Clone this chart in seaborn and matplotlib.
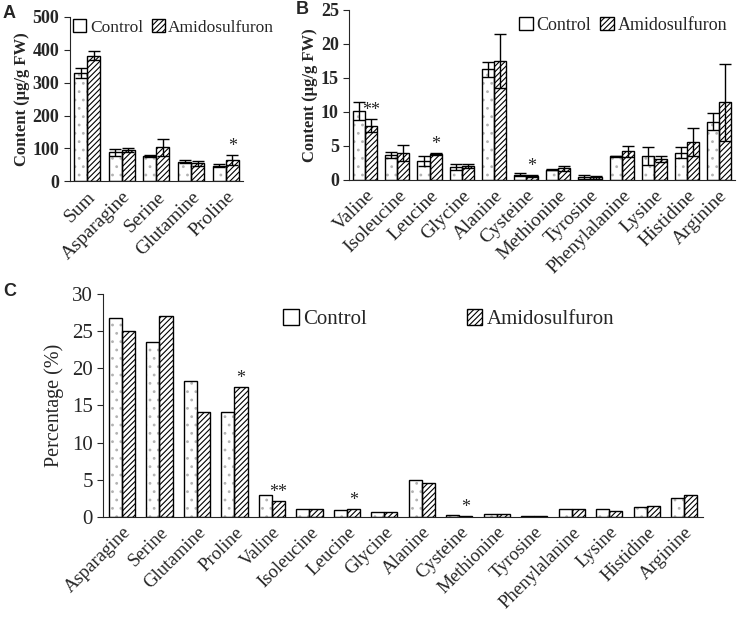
import numpy as np
import pandas as pd
import matplotlib
matplotlib.use('Agg')
import matplotlib.pyplot as plt
import seaborn as sns
from matplotlib.patches import Patch, Rectangle

groups = ['Control', 'Amidosulfuron']

# panel A
a_names = ['Sum', 'Asparagine', 'Serine', 'Glutamine', 'Proline']
a_ctrl = [330, 88, 77, 60, 47]
a_ctrl_err = [15, 11, 3, 6, 5]
a_amido = [382, 95, 103, 54, 65]
a_amido_err = [14, 6, 27, 8, 15]
a_stars = ['', '', '', '', '*']

# panel B
b_names = ['Valine', 'Isoleucine', 'Leucine', 'Glycine', 'Alanine', 'Cysteine',
           'Methionine', 'Tyrosine', 'Phenylalanine', 'Lysine', 'Histidine', 'Arginine']
b_ctrl = [10.1, 3.7, 2.8, 1.9, 16.3, 0.8, 1.5, 0.5, 3.5, 3.5, 4.0, 8.6]
b_ctrl_err = [1.3, 0.4, 0.8, 0.4, 1.1, 0.2, 0.1, 0.3, 0.1, 1.3, 0.8, 1.3]
b_amido = [8.0, 4.0, 3.8, 2.1, 17.5, 0.6, 1.7, 0.4, 4.2, 3.1, 5.6, 11.4]
b_amido_err = [0.9, 1.2, 0.1, 0.3, 4.0, 0.1, 0.4, 0.2, 0.8, 0.4, 2.1, 5.7]
b_stars = ['**', '', '*', '', '', '*', '', '', '', '', '', '']

# panel C
c_names = ['Asparagine', 'Serine', 'Glutamine', 'Proline', 'Valine', 'Isoleucine',
           'Leucine', 'Glycine', 'Alanine', 'Cysteine', 'Methionine', 'Tyrosine',
           'Phenylalanine', 'Lysine', 'Histidine', 'Arginine']
c_ctrl = [26.7, 23.5, 18.3, 14.1, 3.0, 1.1, 0.9, 0.6, 5.0, 0.3, 0.45, 0.15,
          1.0, 1.0, 1.3, 2.6]
c_amido = [25.0, 27.0, 14.1, 17.4, 2.2, 1.0, 1.0, 0.6, 4.6, 0.15, 0.45, 0.12,
           1.0, 0.8, 1.4, 3.0]
c_stars = ['', '', '', '*', '**', '', '*', '', '', '*', '', '', '', '', '', '']

sns.set_style('ticks')
plt.rcParams['font.family'] = ['Liberation Serif', 'DejaVu Serif']
plt.rcParams['hatch.linewidth'] = 0.8


def draw(ax, names, ctrl, amido, ctrl_err, amido_err, stars, width, xsize):
    df = pd.DataFrame({
        'name': names * 2,
        'value': ctrl + amido,
        'group': ['Control'] * len(names) + ['Amidosulfuron'] * len(names),
    })
    sns.barplot(data=df, x='name', y='value', hue='group', hue_order=groups,
                palette=['white', 'white'], edgecolor='black', linewidth=1,
                width=width, errorbar=None, legend=False, ax=ax)
    n = len(names)
    bars = list(ax.patches[:2 * n])
    errs = (ctrl_err or [None] * n) + (amido_err or [None] * n)
    vals = ctrl + amido
    for i, bar in enumerate(bars):
        g = groups[i // n]
        if g == 'Control':
            # light grey dots inside, black outline on top
            bar.set_edgecolor('0.7')
            bar.set_linewidth(0)
            bar.set_hatch('..')
            ax.add_patch(Rectangle(bar.get_xy(), bar.get_width(), bar.get_height(),
                                   fill=False, edgecolor='black', linewidth=1, zorder=bar.get_zorder()))
        else:
            bar.set_hatch('//////')
        x = bar.get_x() + bar.get_width() / 2
        top = vals[i]
        if errs[i] is not None:
            ax.errorbar(x, vals[i], yerr=errs[i], color='black', capsize=4,
                        elinewidth=1, capthick=1)
            top = vals[i] + errs[i]
        if g == 'Amidosulfuron' and stars[i - n]:
            ax.text(x, top, stars[i - n], ha='center', va='bottom', fontsize=13)
    ax.set_xlabel('')
    ax.set_xlim(-0.5, n - 0.5)
    ax.tick_params(axis='x', length=0, labelsize=xsize, pad=5)
    for lab in ax.get_xticklabels():
        lab.set_rotation(45)
        lab.set_ha('right')
        lab.set_rotation_mode('anchor')
    sns.despine(ax=ax)


def legend_handles():
    return [Patch(facecolor='white', edgecolor='black', hatch=''),
            Patch(facecolor='white', edgecolor='black', hatch='//////')]


fig = plt.figure(figsize=(7.43, 6.25), dpi=100)
ax_a = fig.add_axes([0.094, 0.710, 0.233, 0.263])
ax_b = fig.add_axes([0.470, 0.712, 0.519, 0.272])
ax_c = fig.add_axes([0.139, 0.173, 0.807, 0.357])

draw(ax_a, a_names, a_ctrl, a_amido, a_ctrl_err, a_amido_err, a_stars, 0.75, 14)
ax_a.set_ylim(0, 500)
ax_a.set_yticks(range(0, 501, 100))
ax_a.set_ylabel('Content (μg/g FW)', fontsize=12, fontweight='bold', labelpad=2)

draw(ax_b, b_names, b_ctrl, b_amido, b_ctrl_err, b_amido_err, b_stars, 0.75, 14)
ax_b.set_ylim(0, 25)
ax_b.set_yticks(range(0, 26, 5))
ax_b.set_ylabel('Content (μg/g FW)', fontsize=12, fontweight='bold', labelpad=2)

draw(ax_c, c_names, c_ctrl, c_amido, None, None, c_stars, 0.7, 13.5)
ax_c.set_ylim(0, 30)
ax_c.set_yticks(range(0, 31, 5))
ax_c.set_ylabel('Percentage (%)', fontsize=14.5, labelpad=6)

for ax in (ax_a, ax_b):
    ax.tick_params(axis='y', labelsize=13, length=4, direction='out')
    for lab in ax.get_yticklabels():
        lab.set_fontweight('bold')
ax_c.tick_params(axis='y', labelsize=15, length=4, direction='out')

leg_kw = dict(frameon=False, handlelength=0.75, handleheight=0.75,
              handletextpad=0.2, borderaxespad=0, borderpad=0)
ax_a.legend(legend_handles(), groups, loc='upper left', ncol=2, fontsize=12.5,
            columnspacing=0.5, bbox_to_anchor=(0.02, 0.985), **leg_kw)
ax_b.legend(legend_handles(), groups, loc='upper right', ncol=2, fontsize=13,
            columnspacing=0.5, bbox_to_anchor=(0.98, 0.96), **leg_kw)
ax_c.legend(legend_handles(), groups, loc='upper left', ncol=2, fontsize=15,
            columnspacing=4.8, bbox_to_anchor=(0.30, 0.93), **leg_kw)

for lbl, xy in (('A', (0.004, 0.972)), ('B', (0.398, 0.978)), ('C', (0.004, 0.526))):
    fig.text(xy[0], xy[1], lbl, fontsize=13, fontweight='bold',
             family=['Liberation Sans', 'DejaVu Sans'])

fig.savefig('out.png', dpi=100, facecolor='white')
